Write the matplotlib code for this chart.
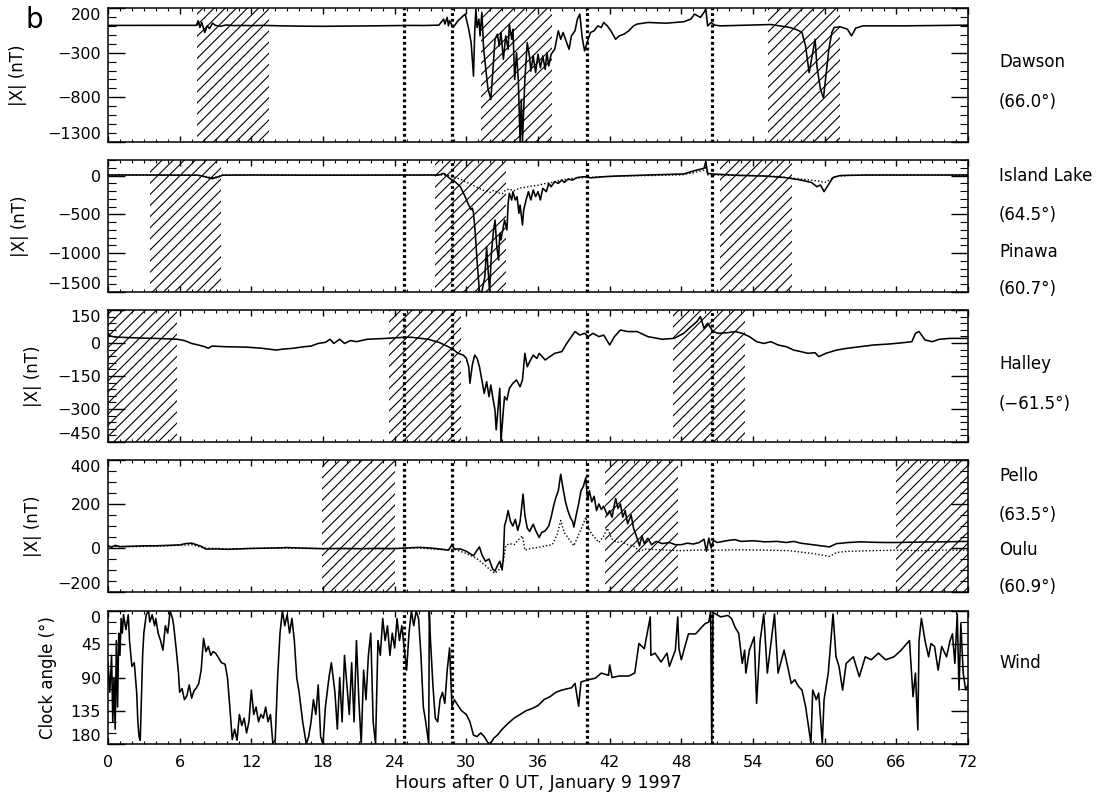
import numpy as np
import matplotlib.pyplot as plt
from matplotlib.ticker import MultipleLocator

plt.rcParams['font.family'] = ['DejaVu Sans']
plt.rcParams['hatch.linewidth'] = 0.8
plt.rcParams['axes.linewidth'] = 1.1

# (hour, |X| nT) samples
dawson = np.array([
    (0, 5), (3, 5), (6, 5), (7.4, 6), (7.55, 57), (7.7, -18), (7.85, 38), (8.1, -74),
    (8.3, 0), (8.5, -30), (8.75, 30), (9.0, 5), (9.4, -5), (9.9, 10), (10.5, 3),
    (11.1, 5), (12, 3), (13, 5), (14.6, 0), (16, -3), (18, -5), (20, -3), (22, 0),
    (24, 3), (25.5, 5), (26.5, 4), (27.7, 8), (28.1, 76), (28.2, 20), (28.4, 95),
    (28.5, 0), (28.6, 57), (28.9, -18), (29.3, 57), (29.6, 95), (29.9, 132),
    (30.2, -37), (30.4, -187), (30.6, -562), (30.7, -74), (30.8, 189), (30.9, -18),
    (31.05, 76), (31.15, -112), (31.3, 151), (31.45, -262), (31.6, -450),
    (31.8, -694), (32.05, -825), (32.25, -450), (32.4, -150), (32.6, -93),
    (32.75, -225), (32.9, -74), (33.1, -374), (33.3, -112), (33.5, -262),
    (33.6, 20), (33.8, -150), (33.9, -37), (34.05, -600), (34.2, -300),
    (34.35, -600), (34.5, -1295), (34.6, -825), (34.7, -1295), (34.9, -600),
    (35.1, -187), (35.3, -355), (35.4, -507), (35.6, -337), (35.8, -524),
    (36.0, -317), (36.2, -468), (36.4, -337), (36.6, -488), (36.75, -300),
    (36.9, -450), (37.1, -317), (37.4, -262), (37.7, -55), (37.9, -150),
    (38.1, -74), (38.4, -187), (38.6, -262), (38.8, -112), (39.1, -55), (39.3, 76),
    (39.5, 132), (39.7, -130), (39.9, -280), (40.2, -150), (40.4, -74),
    (40.7, -55), (41.0, 0), (41.3, -18), (41.5, 38), (41.8, 0), (42.1, -55),
    (42.5, -150), (42.8, -112), (43.2, -93), (43.6, -55), (44.0, 0), (44.3, 20),
    (45.2, 38), (46.7, 30), (48.2, 46), (48.8, 76), (49.1, 132), (49.6, 95),
    (49.9, 151), (50.05, 189), (50.2, 0), (50.5, 38), (50.8, 8), (51.3, 0),
    (54.3, 10), (55.5, 15), (57.1, -18), (57.7, -45), (58.1, -74), (58.4, -225),
    (58.7, -524), (59.0, -300), (59.2, -150), (59.35, -450), (59.65, -712),
    (59.9, -806), (60.1, -562), (60.35, -262), (60.6, -74), (60.8, -18),
    (61.3, -10), (61.9, -37), (62.25, -112), (62.6, -25), (63.2, 0), (66.5, 0),
    (72, 8),
])

island_lake = np.array([
    (0, 7), (3, 7), (6, 5), (7.5, 5), (8.1, -15), (8.7, -40), (9.3, -15), (9.6, 5),
    (12, 7), (16, 5), (20, 5), (24, 6), (27.7, 7), (28.1, 28), (28.4, -6),
    (28.6, -36), (29.05, -79), (29.5, -144), (29.9, -272), (30.2, -380),
    (30.4, -440), (30.5, -420), (30.6, -480), (30.75, -745), (30.9, -1100),
    (31.0, -1300), (31.1, -1496), (31.3, -1496), (31.55, -1303), (31.7, -917),
    (31.8, -1174), (31.95, -1496), (32.1, -1000), (32.25, -745), (32.4, -573),
    (32.55, -917), (32.7, -1088), (32.8, -745), (32.9, -830), (33.1, -659),
    (33.2, -573), (33.4, -700), (33.5, -358), (33.6, -229), (33.8, -315),
    (33.9, -208), (34.1, -315), (34.25, -272), (34.4, -487), (34.5, -380),
    (34.7, -637), (34.8, -444), (35.0, -315), (35.2, -208), (35.4, -315),
    (35.6, -186), (35.8, -272), (36.0, -208), (36.2, -315), (36.4, -165),
    (36.7, -208), (36.9, -101), (37.1, -144), (37.4, -79), (37.7, -101),
    (38.0, -58), (38.2, -90), (38.5, -47), (38.9, -58), (39.3, -25), (39.9, -15),
    (40.4, -30), (41.5, -15), (42.7, -6), (44.3, 2), (45.2, 7), (48.2, 20),
    (49.1, 62), (49.9, 93), (50.05, 179), (50.2, 28), (50.65, 20), (52.8, 2),
    (54.9, -6), (56.8, -28), (58.0, -58), (58.9, -90), (59.35, -144),
    (59.65, -122), (59.95, -208), (60.3, -122), (60.7, -25), (61.3, 0),
    (63.5, 7), (72, 7),
])

pinawa = np.array([
    (0, 7), (6, 5), (7.5, 5), (8.1, -10), (8.7, -30), (9.3, -10), (9.6, 5), (12, 7),
    (20, 5), (27.7, 7), (28.3, 5), (28.8, -10), (29.2, -30), (29.6, -55),
    (30.0, -85), (30.5, -120), (31.0, -160), (31.5, -195), (32.0, -215),
    (32.3, -190), (32.6, -220), (33.0, -235), (33.3, -185), (33.6, -175),
    (34.0, -195), (34.5, -160), (35.0, -150), (35.5, -135), (36.0, -125),
    (36.5, -105), (37.0, -95), (37.5, -75), (38.0, -60), (38.5, -45), (39.0, -35),
    (40.0, -25), (41.0, -18), (42.0, -12), (43.0, -8), (44.0, -3), (46.0, 2),
    (48.0, 8), (49.0, 35), (49.9, 70), (50.05, 120), (50.2, 10), (51.0, 5),
    (54.0, 0), (56.0, -12), (57.0, -30), (58.0, -45), (59.0, -62), (59.5, -72),
    (60.0, -90), (60.5, -50), (61.0, -12), (62.0, 2), (72, 5),
])

halley = np.array([
    (0.0, 45), (0.2, 32), (0.5, 28), (1, 26), (2, 24), (3, 22), (4, 21), (5, 19),
    (5.8, 17), (6.4, 11), (7.0, -2), (7.55, -9), (8.1, -17), (8.4, -24),
    (8.7, -14), (9.9, -17), (11.7, -19), (12.9, -24), (14.1, -32), (14.6, -28),
    (15.5, -24), (16.4, -17), (17.0, -14), (17.6, -2), (18.2, 3), (18.6, 17),
    (18.9, -2), (19.4, 17), (19.8, -2), (20.3, 11), (20.8, 6), (21.7, 17),
    (22.6, 19), (23.3, 21), (24.8, 26), (25.4, 26), (26.8, 17), (27.7, 3),
    (28.5, -17), (28.9, -29), (29.3, -47), (29.75, -55), (30.0, -70),
    (30.2, -108), (30.3, -183), (30.5, -100), (30.7, -55), (30.9, -70),
    (31.1, -108), (31.3, -168), (31.5, -229), (31.7, -176), (31.9, -244),
    (32.05, -191), (32.25, -259), (32.4, -305), (32.5, -395), (32.67, -290),
    (32.8, -206), (32.9, -449), (33.1, -305), (33.2, -244), (33.4, -259),
    (33.6, -206), (33.9, -183), (34.2, -168), (34.5, -199), (34.7, -168),
    (34.9, -47), (35.1, -108), (35.3, -85), (35.6, -55), (35.9, -70),
    (36.1, -47), (36.6, -77), (37.0, -62), (37.4, -47), (38.0, -39), (38.4, -2),
    (38.8, 29), (39.1, 52), (39.5, 36), (39.9, 44), (40.2, 29), (40.6, 44),
    (41.1, 29), (41.5, 36), (42.0, -9), (42.4, 29), (42.9, 59), (43.5, 52),
    (44.3, 52), (45.2, 29), (46.4, 17), (47.4, 21), (48.2, 44), (48.8, 74),
    (49.3, 97), (49.6, 120), (49.9, 67), (50.2, 90), (50.65, 52), (51.1, 44),
    (51.9, 47), (52.5, 52), (53.1, 44), (53.7, 29), (54.3, 6), (54.9, -2),
    (55.5, 6), (56.1, -9), (56.8, -17), (57.4, -32), (58.0, -39), (58.6, -47),
    (59.2, -44), (59.5, -62), (60.1, -47), (61.0, -32), (61.9, -24),
    (62.9, -17), (64.1, -9), (65.3, -5), (66.5, 1), (67.3, 6), (67.6, 44),
    (67.9, 52), (68.4, 14), (69.0, 6), (69.6, 17), (70.5, 21), (72, 21),
])

pello = np.array([
    (0, 10), (0.3, 3), (0.6, 12), (1, 6), (2, 8), (3, 10), (4, 10), (5, 12), (6, 14),
    (6.5, 20), (7.0, 22), (7.4, 15), (7.8, 8), (8.2, -5), (9, -4), (10, -6),
    (12, -2), (14, 0), (15, 2), (16, 0), (18, -3), (19.5, -2), (21, -3),
    (22.5, -2), (24, -3), (25, 0), (26, 3), (27, 0), (28, -6), (28.5, -10),
    (28.8, 15), (29.0, -5), (29.5, -4), (30.0, -15), (30.3, -25), (30.6, -35),
    (30.9, -10), (31.1, 5), (31.3, -30), (31.6, -60), (31.9, -50), (32.2, -95),
    (32.4, -105), (32.6, -80), (32.8, -60), (33.0, -100), (33.1, -40),
    (33.2, 100), (33.35, 130), (33.5, 170), (33.7, 120), (33.9, 100),
    (34.1, 130), (34.3, 80), (34.5, 120), (34.75, 245), (34.9, 150), (35.1, 90),
    (35.3, 75), (35.6, 108), (35.8, 80), (36.1, 48), (36.3, 70), (36.6, 78),
    (36.9, 100), (37.1, 140), (37.3, 190), (37.5, 230), (37.7, 260),
    (37.9, 335), (38.1, 270), (38.3, 210), (38.5, 170), (38.7, 140),
    (38.9, 120), (39.0, 95), (39.2, 150), (39.4, 200), (39.6, 260), (39.8, 280),
    (40.0, 320), (40.15, 220), (40.3, 260), (40.5, 210), (40.7, 235),
    (40.9, 170), (41.1, 200), (41.3, 175), (41.5, 190), (41.8, 150), (42.0, 170),
    (42.2, 140), (42.5, 225), (42.7, 180), (42.9, 200), (43.1, 140), (43.3, 170),
    (43.5, 110), (43.8, 150), (44.0, 90), (44.2, 60), (44.5, 10), (44.7, 55),
    (44.9, 20), (45.2, 45), (45.5, 15), (45.9, 30), (46.4, 20), (47.0, 25),
    (47.5, 15), (48.0, 15), (48.5, 22), (49.0, 18), (49.5, 25), (49.9, 40),
    (50.1, -15), (50.3, 45), (50.5, 0), (50.7, 35), (51.0, 25), (51.5, 30),
    (52, 35), (52.5, 38), (53, 30), (54, 33), (55, 28), (56, 30), (56.8, 25),
    (57.4, 30), (58, 22), (59, 15), (60, 8), (60.4, 5), (61, 20), (62, 25),
    (63, 28), (64, 26), (65, 25), (66, 25), (68, 27), (70, 28), (72, 30),
])

oulu = np.array([
    (0, 8), (2, 6), (4, 8), (6, 12), (7, 15), (8, 0), (10, -4), (14, 0), (18, -3),
    (22, -3), (26, 0), (28, -8), (29, -6), (30, -25), (30.8, -45), (31.5, -75),
    (32.0, -100), (32.4, -115), (32.8, -95), (33.1, -60), (33.3, 10),
    (33.6, 20), (34, 15), (34.4, 40), (34.7, 55), (34.9, -10), (35.2, -5),
    (35.6, 0), (36, 2), (36.6, 10), (37.2, 15), (37.6, 60), (37.9, 125),
    (38.2, 70), (38.6, 40), (39.0, 10), (39.4, 60), (39.8, 110), (40.0, 140),
    (40.3, 80), (40.7, 50), (41.1, 25), (41.5, 55), (41.8, 90), (42.2, 40),
    (42.6, 25), (43, 30), (43.5, 15), (44, 10), (44.5, -15), (45, -5), (46, -8),
    (47, -10), (48, -12), (50, -8), (51, -10), (53, -8), (55, -10), (57, -12),
    (59, -25), (60.4, -38), (61, -20), (62, -15), (64, -12), (66, -10),
    (68, -12), (70, -10), (72, -10),
])

# (hour, IMF clock angle in degrees) from the Wind spacecraft
wind_clock = np.array([
    (0.0, 70), (0.15, 110), (0.3, 60), (0.4, 150), (0.5, 90), (0.6, 160),
    (0.7, 40), (0.8, 130), (0.9, 30), (1.0, 60), (1.1, 10), (1.2, 30), (1.3, 5),
    (1.5, 25), (1.7, 5), (1.8, 40), (2.0, 75), (2.2, 70), (2.4, 110), (2.5, 150),
    (2.6, 170), (2.7, 175), (2.8, 120), (2.9, 60), (3.0, 30), (3.2, 5), (3.4, 0),
    (3.5, 15), (3.7, 5), (3.9, 20), (4.0, 10), (4.2, 30), (4.4, 40), (4.6, 53),
    (4.8, 20), (5.0, 30), (5.2, 0), (5.4, 10), (5.5, 20), (5.7, 50), (5.9, 84),
    (6.0, 110), (6.2, 105), (6.4, 120), (6.6, 115), (6.8, 100), (7.0, 118),
    (7.2, 108), (7.4, 104), (7.6, 98), (7.8, 80), (8.0, 37), (8.2, 55),
    (8.4, 48), (8.6, 60), (8.8, 55), (9.0, 57), (9.2, 62), (9.5, 70), (9.8, 72),
    (10.0, 90), (10.2, 130), (10.4, 174), (10.6, 160), (10.8, 175), (11.0, 140),
    (11.2, 155), (11.4, 145), (11.6, 165), (11.8, 150), (12.0, 107),
    (12.2, 140), (12.4, 130), (12.6, 150), (12.8, 140), (13.0, 145),
    (13.2, 130), (13.4, 150), (13.6, 140), (13.8, 179), (14.0, 175), (14.2, 90),
    (14.4, 30), (14.6, 0), (14.8, 20), (15.0, 5), (15.2, 30), (15.4, 10),
    (15.6, 40), (15.8, 90), (16.0, 110), (16.3, 150), (16.6, 180), (16.8, 170),
    (17.0, 150), (17.2, 120), (17.4, 140), (17.6, 100), (17.8, 170),
    (18.0, 180), (18.2, 130), (18.5, 90), (18.7, 70), (19.0, 110), (19.2, 160),
    (19.4, 90), (19.6, 150), (19.8, 60), (20.0, 100), (20.2, 140), (20.4, 70),
    (20.6, 150), (20.8, 40), (21.0, 120), (21.2, 180), (21.4, 80), (21.6, 120),
    (21.8, 60), (22.0, 30), (22.2, 150), (22.4, 180), (22.6, 40), (22.8, 60),
    (23.0, 10), (23.2, 40), (23.4, 20), (23.6, 60), (23.8, 30), (24.0, 50),
    (24.2, 10), (24.4, 40), (24.6, 20), (24.8, 50), (25.0, 80), (25.2, 30),
    (25.4, 0), (25.6, 20), (25.8, 0), (26.0, 10), (26.2, 60), (26.4, 130),
    (26.6, 150), (26.85, 180), (26.9, 0), (27.0, 40), (27.2, 100), (27.4, 145),
    (27.6, 150), (27.8, 120), (28.0, 110), (28.2, 125), (28.4, 80), (28.6, 50),
    (28.8, 130), (29.0, 120), (29.3, 128), (29.6, 135), (30.0, 140),
    (30.3, 150), (30.6, 168), (30.9, 170), (31.2, 165), (31.5, 170),
    (31.8, 178), (32.0, 180), (32.3, 172), (32.6, 168), (33.0, 160),
    (33.5, 152), (34.0, 145), (34.5, 140), (35.0, 135), (35.5, 132),
    (36.0, 128), (36.5, 120), (37.0, 116), (37.5, 110), (38.0, 107),
    (38.5, 105), (38.8, 104), (39.1, 98), (39.4, 129), (39.6, 96), (40.2, 93),
    (40.8, 91), (41.3, 84), (41.9, 87), (42.0, 73), (42.2, 90), (42.8, 88),
    (43.6, 88), (44.1, 84), (44.45, 44), (44.9, 51), (45.4, 8), (45.45, 60),
    (45.8, 57), (46.3, 69), (46.8, 57), (47.0, 75), (47.5, 53), (47.7, 8),
    (47.8, 51), (48.0, 66), (48.3, 48), (48.6, 31), (49.2, 31), (49.7, 22),
    (50.0, 17), (50.3, 15), (50.45, 1), (50.55, 180), (50.65, 2), (51.3, 8),
    (51.9, 6), (52.2, 10), (52.5, 22), (52.8, 30), (53.1, 71), (53.3, 53),
    (53.4, 84), (53.7, 53), (54.1, 35), (54.3, 125), (54.6, 40), (54.9, 4),
    (55.2, 84), (55.5, 44), (55.8, 4), (56.1, 84), (56.6, 53), (56.9, 75),
    (57.2, 98), (57.5, 93), (57.8, 102), (58.1, 107), (58.4, 129), (58.85, 179),
    (59.0, 107), (59.3, 120), (59.5, 111), (59.8, 179), (59.95, 120),
    (60.3, 84), (60.7, 4), (60.95, 62), (61.2, 75), (61.5, 107), (61.8, 71),
    (62.4, 62), (62.9, 89), (63.4, 62), (63.9, 66), (64.5, 57), (65.1, 66),
    (65.8, 62), (66.4, 53), (67.1, 40), (67.4, 116), (67.6, 84), (67.8, 161),
    (67.9, 40), (68.1, 10), (68.4, 40), (68.7, 62), (68.9, 44), (69.2, 48),
    (69.5, 80), (69.8, 48), (70.2, 62), (70.5, 40), (70.7, 31), (70.9, 71),
    (71.1, 4), (71.25, 107), (71.4, 17), (71.6, 84), (71.8, 107), (72.0, 100),
])

# nightside intervals (hatched) for each station, hours
dawson_night = [(7.45, 13.45), (31.2, 37.2), (55.25, 61.25)]
island_night = [(3.5, 9.5), (27.35, 33.3), (51.2, 57.25)]
halley_night = [(0, 5.75), (23.5, 29.55), (47.3, 53.35)]
pello_night = [(17.9, 24.0), (41.6, 47.7), (66.0, 72.0)]
wind_night = []

event_hours = [24.8, 28.8, 40.1, 50.6]

hour_ticks = np.arange(0, 73, 6)

W, H = 1104, 801
AX_LEFT, AX_RIGHT = 108, 968
fig = plt.figure(figsize=(W / 100, H / 100), dpi=100)

panels = [
    dict(px=(8, 142), ylim=(-1300, 200), yticks=[200, -300, -800, -1300], minor=100,
         night=dawson_night, solid=dawson, dotted=None, label_x=18,
         ylabel='|X| (nT)'),
    dict(px=(160, 292), ylim=(-1500, 200), yticks=[0, -500, -1000, -1500], minor=100,
         night=island_night, solid=island_lake, dotted=pinawa, label_x=20,
         ylabel='|X| (nT)'),
    dict(px=(310, 442), ylim=(-450, 150), yticks=[150, 0, -150, -300, -450], minor=30,
         night=halley_night, solid=halley, dotted=None, label_x=33,
         ylabel='|X| (nT)'),
    dict(px=(460, 592), ylim=(-200, 400), yticks=[400, 200, 0, -200], minor=50,
         night=pello_night, solid=pello, dotted=oulu, label_x=33,
         ylabel='|X| (nT)'),
    dict(px=(611, 744), ylim=(180, 0), yticks=[0, 45, 90, 135, 180], minor=15,
         night=wind_night, solid=wind_clock, dotted=None, label_x=48,
         ylabel='Clock angle (°)'),
]

axes = []
ax_w = AX_RIGHT - AX_LEFT
for i, p in enumerate(panels):
    top, bot = p['px']
    ax = fig.add_axes([AX_LEFT / W, 1 - bot / H, ax_w / W, (bot - top) / H])
    axes.append(ax)

    for a, b in p['night']:
        ax.axvspan(a, b, facecolor='none', edgecolor='black', hatch='///',
                   linewidth=0, zorder=1)
    for h in event_hours:
        ax.axvline(h, color='black', lw=2.3, ls=(0, (0.9, 0.9)), zorder=2)

    ax.plot(p['solid'][:, 0], p['solid'][:, 1], color='black', lw=1.15, zorder=3)
    if p['dotted'] is not None:
        ax.plot(p['dotted'][:, 0], p['dotted'][:, 1], color='black', lw=1.0,
                ls=(0, (1, 1.5)), zorder=3)

    ax.set_xlim(0, 72)
    ax.set_ylim(*p['ylim'])
    ax.set_xticks(hour_ticks)
    ax.xaxis.set_minor_locator(MultipleLocator(1))
    ax.set_yticks(p['yticks'])
    ax.yaxis.set_minor_locator(MultipleLocator(p['minor']))
    ax.tick_params(which='both', direction='in', top=True, right=True,
                   labelsize=11.5)
    ax.tick_params(axis='y', which='major', length=12, width=1, pad=5)
    ax.tick_params(axis='y', which='minor', length=6, width=0.8)
    ax.tick_params(axis='x', which='major', length=4.5, width=1, pad=8)
    ax.tick_params(axis='x', which='minor', length=2.5, width=0.8)
    if i < len(panels) - 1:
        ax.tick_params(axis='x', labelbottom=False)

    ax.set_ylabel(p['ylabel'], fontsize=12, va='center')
    ax.yaxis.set_label_coords((p['label_x'] - AX_LEFT) / ax_w, 0.5)

axes[-1].set_xlabel('Hours after 0 UT, January 9 1997', fontsize=12.5, labelpad=3)

# tick positions are only known after a draw; then pull the end labels inside the frame
fig.canvas.draw()
for ax in axes:
    y_bottom, y_top = ax.get_ylim()
    for tick in ax.yaxis.get_major_ticks():
        if np.isclose(tick.get_loc(), y_top):
            tick.label1.set_va('top')
        elif np.isclose(tick.get_loc(), y_bottom):
            tick.label1.set_va('bottom')

station_labels = [
    ('Dawson', 62), ('(66.0°)', 102),
    ('Island Lake', 176), ('(64.5°)', 215), ('Pinawa', 252), ('(60.7°)', 289),
    ('Halley', 364), ('(\u221261.5°)', 404),
    ('Pello', 476), ('(63.5°)', 515), ('Oulu', 550), ('(60.9°)', 587),
    ('Wind', 663),
]
for text, ypx in station_labels:
    fig.text(999 / W, 1 - ypx / H, text, fontsize=12, ha='left', va='center')

fig.text(34 / W, 1 - 20 / H, 'b', fontsize=20, ha='center', va='center')

fig.savefig('out.png', dpi=100)
